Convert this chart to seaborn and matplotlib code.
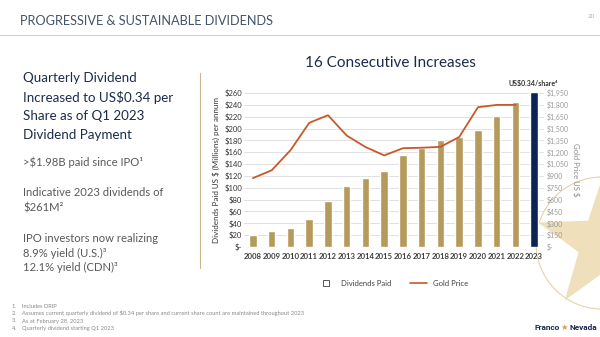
import numpy as np
import pandas as pd
import matplotlib
matplotlib.use("Agg")
import matplotlib.pyplot as plt
from matplotlib.lines import Line2D
from matplotlib.patches import Polygon, Ellipse
import seaborn as sns

# ---------------- data ----------------
years = ["2008", "2009", "2010", "2011", "2012", "2013", "2014", "2015",
         "2016", "2017", "2018", "2019", "2020", "2021", "2022", "2023"]
dividends = [21, 27, 32, 47, 77, 103, 117, 128, 155, 167, 180, 185, 197, 221, 245, 261]
gold_years = years[:-1]
gold_price = [872, 972, 1225, 1572, 1669, 1411, 1266, 1160, 1251, 1257, 1268,
              1393, 1770, 1799, 1800]
left_ticks = list(range(0, 261, 20))
right_ticks = list(range(0, 1951, 150))

TAN = "#b59a5c"
NAVY = "#0b2452"
ORANGE = "#c8582b"
bar_colors = [TAN] * (len(years) - 1) + [NAVY]

sns.set_theme(style="white")
plt.rcParams["font.family"] = ["Lato", "DejaVu Sans"]

fig = plt.figure(figsize=(6.0, 3.37), dpi=100)
W, H = 600, 337
renderer = fig.canvas.get_renderer()

def fx(x):
    return x / W

def fy(y):
    return 1 - y / H

def fit_size(s, target_w, size0=10, **kw):
    """font size so that text s is target_w pixels wide"""
    t = fig.text(0, 0, s, fontsize=size0, **kw)
    w = t.get_window_extent(renderer=renderer).width
    t.remove()
    return size0 * target_w / w

# ---------------- slide decoration (behind) ----------------
cx, cy, rad = 602, 243, 66
fig.add_artist(Ellipse((fx(cx), fy(cy)), 2 * rad / W, 2 * rad / H,
                       transform=fig.transFigure, fill=False,
                       edgecolor="#e6d3a8", linewidth=0.8, zorder=-2))
pts = []
for k in range(10):
    ang = np.deg2rad(197 + k * 36)
    r = 70 if k % 2 == 0 else 28
    pts.append((fx(cx + 3 + r * np.cos(ang)), fy(cy + r * np.sin(ang))))
fig.add_artist(Polygon(pts, closed=True, transform=fig.transFigure,
                       facecolor="#f0dfbb", edgecolor="none", zorder=-3))

# ---------------- chart ----------------
ax = fig.add_axes([fx(243.6), fy(247), 300 / W, 154 / H])
ax.patch.set_alpha(0)
df = pd.DataFrame({"year": years, "div": dividends})
sns.barplot(data=df, x="year", y="div", hue="year", palette=bar_colors,
            legend=False, width=0.4, ax=ax, saturation=1)
ax.set_xlim(-0.5, len(years) - 0.5)
ax.set_ylim(0, 260)
ax.set_yticks(left_ticks)
ax.set_yticklabels(["$-"] + [f"${v}" for v in left_ticks[1:]])
ax.yaxis.grid(True, color="#dcdcdc", linewidth=0.6)
ax.set_axisbelow(True)
for s in ax.spines.values():
    s.set_visible(False)
ax.tick_params(axis="y", labelsize=5.5, colors="#333333", pad=1, length=0)
ax.tick_params(axis="x", labelsize=5.6, colors="#404040", pad=4, length=0)
for lab in ax.get_xticklabels():
    lab.set_fontweight("bold")
ax.set_xlabel("")
ax.set_ylabel("Dividends Paid US $ (Millions) per annum", fontsize=5.8,
              color="#333333", labelpad=3)

ax2 = ax.twinx()
gdf = pd.DataFrame({"pos": np.arange(len(gold_years)), "gold": gold_price})
sns.lineplot(data=gdf, x="pos", y="gold", color=ORANGE, linewidth=1.3, ax=ax2)
ax2.set_ylim(0, 1950)
ax2.set_xlim(-0.5, len(years) - 0.5)
ax2.set_yticks(right_ticks)
ax2.set_yticklabels(["$-"] + [f"${v:,}" for v in right_ticks[1:]])
ax2.tick_params(axis="y", labelsize=5, colors="#9a9a9a", pad=2, length=0)
for s in ax2.spines.values():
    s.set_visible(False)
ax2.set_ylabel("Gold Price US $", fontsize=5.5, color="#8a8a8a", rotation=270,
               labelpad=8)
ax2.set_xlabel("")

ax.annotate("US$0.34/share⁴", xy=(len(years) - 1, dividends[-1]),
            xytext=(-1, 4), textcoords="offset points", ha="center", va="bottom",
            fontsize=5, fontweight="bold", color="#333333", annotation_clip=False)

fig.legend(handles=[
    Line2D([0], [0], marker="s", linestyle="none", markerfacecolor="white",
           markeredgecolor="#555555", markersize=5, markeredgewidth=0.7),
    Line2D([0], [0], color=ORANGE, linewidth=1.2)],
    labels=["Dividends Paid", "Gold Price"], loc="center",
    bbox_to_anchor=(fx(393), fy(283)), ncol=2, frameon=False, fontsize=5.5,
    handlelength=2.2, columnspacing=2.5, labelcolor="#404040")

fig.text(fx(390), fy(63), "16 Consecutive Increases", ha="center", va="center",
         fontsize=11, color="#1a2b4c")

# ---------------- slide text ----------------
heading = "PROGRESSIVE & SUSTAINABLE DIVIDENDS"
fig.text(fx(20), fy(21), heading, ha="left", va="center",
         fontsize=fit_size(heading, 252), color="#44546c")
fig.text(fx(591), fy(17), "20", ha="center", va="center", fontsize=4.5,
         color="#b0b0b0")
fig.add_artist(Line2D([0, 1], [fy(35), fy(35)], color="#ddd0ae", linewidth=0.8))
fig.add_artist(Line2D([fx(200), fx(200)], [fy(73), fy(268)], color="#c8b68a",
                      linewidth=0.8))

navy_lines = ["Quarterly Dividend", "Increased to US$0.34 per",
              "Share as of Q1 2023", "Dividend Payment"]
navy_size = fit_size(navy_lines[1], 150)
for i, t in enumerate(navy_lines):
    fig.text(fx(23), fy(78 + i * 19), t, ha="left", va="center",
             fontsize=navy_size, color="#1a2b4c")

gray_items = [(162, ">$1.98B paid since IPO¹"), (192, "Indicative 2023 dividends of"),
              (208, "$261M²"), (238, "IPO investors now realizing"),
              (253, "8.9% yield (U.S.)³"), (267, "12.1% yield (CDN)³")]
gray_size = fit_size("Indicative 2023 dividends of", 140)
for y, t in gray_items:
    fig.text(fx(23), fy(y), t, ha="left", va="center", fontsize=gray_size,
             color="#595959")

notes = ["Includes DRIP",
         "Assumes current quarterly dividend of $0.34 per share and current share count are maintained throughout 2023",
         "As at February 28, 2023",
         "Quarterly dividend starting Q1 2023"]
note_size = fit_size(notes[1], 285)
for i, t in enumerate(notes):
    y = 306 + i * 7.5
    fig.text(fx(12), fy(y), f"{i + 1}.", ha="left", va="center",
             fontsize=note_size, color="#8a8a8a")
    fig.text(fx(22), fy(y), t, ha="left", va="center", fontsize=note_size,
             color="#8a8a8a")

logo_kw = dict(fontweight="bold", family=["Roboto", "DejaVu Sans"])
logo_size = fit_size("Nevada", 28, **logo_kw)
fig.text(fx(560), fy(327), "Franco", ha="right", va="center", fontsize=logo_size,
         color="#1a2b4c", **logo_kw)
fig.text(fx(564.5), fy(327), "★", ha="center", va="center", fontsize=6,
         color="#c9a45c", family=["DejaVu Sans"])
fig.text(fx(569), fy(327), "Nevada", ha="left", va="center", fontsize=logo_size,
         color="#1a2b4c", **logo_kw)

fig.savefig("out.png", dpi=100)
